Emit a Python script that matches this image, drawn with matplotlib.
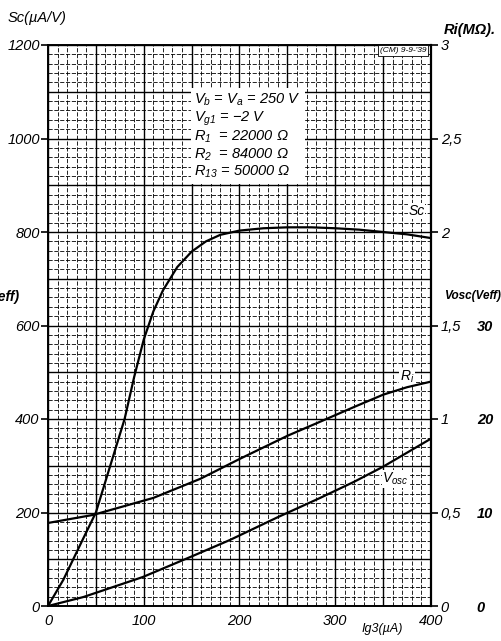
import matplotlib
matplotlib.use("Agg")
import matplotlib.pyplot as plt
from matplotlib.ticker import MultipleLocator, FixedLocator, FixedFormatter

# ---- data ----
ig3 = [0, 16, 36, 50, 65, 80, 90, 100, 110, 120, 135, 150, 165, 180, 200, 225, 250, 275, 300, 325, 350, 375, 400]
sc = [0, 56, 141, 200, 300, 400, 490, 570, 630, 675, 725, 758, 780, 794, 803, 808, 810, 810, 808, 805, 800, 795, 787]

ri_x = [0, 47, 110, 159, 200, 250, 284, 320, 350, 375, 400]
ri = [0.444, 0.487, 0.578, 0.68, 0.786, 0.91, 0.985, 1.065, 1.13, 1.17, 1.20]

vosc_x = [0, 37, 99, 150, 190, 240, 284, 320, 350, 375, 400]
vosc = [0, 0.96, 3.1, 5.3, 7.06, 9.5, 11.55, 13.3, 14.9, 16.4, 17.9]

sc_ticks = [0, 200, 400, 600, 800, 1000, 1200]
sc_labels = ["0", "200", "400", "600", "800", "1000", "1200"]
ri_ticks = [0, 0.5, 1, 1.5, 2, 2.5, 3]
ri_labels = ["0", "0,5", "1", "1,5", "2", "2,5", "3"]
v_ticks = [0, 10, 20, 30]
v_labels = ["0", "10", "20", "30"]
x_ticks = [0, 100, 200, 300, 400]
x_labels = ["0", "100", "200", "300", "400"]

conditions = ["$V_b$ = $V_a$ = 250 V", "$V_{g1}$ = −2 V", "$R_1$  = 22000 Ω",
              "$R_2$  = 84000 Ω", "$R_{13}$ = 50000 Ω"]

plt.rcParams['font.family'] = ['Liberation Sans', 'DejaVu Sans']
plt.rcParams['mathtext.fontset'] = 'custom'
plt.rcParams['mathtext.it'] = 'Liberation Sans:italic'
plt.rcParams['mathtext.rm'] = 'Liberation Sans:italic'

fig = plt.figure(figsize=(5.02, 6.41), dpi=100)
ax = fig.add_axes([48/502, 1-606/641, (431-48)/502, (606-45)/641])

ax.set_xlim(0, 400)
ax.set_ylim(0, 1200)

# grid
ax.xaxis.set_minor_locator(MultipleLocator(10))
ax.yaxis.set_minor_locator(MultipleLocator(20))
ax.xaxis.set_major_locator(FixedLocator(x_ticks))
ax.yaxis.set_major_locator(FixedLocator(sc_ticks))
for v in range(0, 401, 10):
    lw = 1.0 if v % 50 == 0 else 0.6
    ls = '-' if v % 50 == 0 else (0, (5, 2))
    ax.axvline(v, color='black', lw=lw, ls=ls, zorder=1)
for v in range(0, 1201, 20):
    lw = 1.0 if v % 100 == 0 else 0.6
    ls = '-' if v % 100 == 0 else (0, (5, 2))
    ax.axhline(v, color='black', lw=lw, ls=ls, zorder=1)

ax.xaxis.set_major_formatter(FixedFormatter(x_labels))
ax.yaxis.set_major_formatter(FixedFormatter(sc_labels))
ax.tick_params(axis='both', which='minor', length=0)
ax.tick_params(axis='y', which='major', length=5, width=1.2, direction='out', labelsize=10.5, pad=1)
ax.tick_params(axis='x', which='major', length=0, labelsize=10.5, pad=6)
for lab in ax.get_xticklabels() + ax.get_yticklabels():
    lab.set_style('italic')

for s in ax.spines.values():
    s.set_linewidth(1.4)
    s.set_color('black')

# Sc curve
ax.plot(ig3, sc, color='black', lw=1.6, zorder=5)

# Ri axis
ax2 = ax.twinx()
ax2.set_position(ax.get_position())
ax2.set_ylim(0, 3)
ax2.yaxis.set_major_locator(FixedLocator(ri_ticks))
ax2.yaxis.set_major_formatter(FixedFormatter(ri_labels))
ax2.tick_params(axis='y', length=5, width=1.2, direction='out', labelsize=10.5, pad=2)
for lab in ax2.get_yticklabels():
    lab.set_style('italic')
for s in ax2.spines.values():
    s.set_visible(False)
ax2.spines['right'].set_visible(True)
ax2.spines['right'].set_linewidth(1.6)
ax2.plot(ri_x, ri, color='black', lw=1.6, zorder=5)

# Vosc axis
ax3 = ax.twinx()
ax3.set_position(ax.get_position())
ax3.set_ylim(0, 60)
for s in ax3.spines.values():
    s.set_visible(False)
ax3.yaxis.set_major_locator(FixedLocator(v_ticks))
ax3.yaxis.set_major_formatter(FixedFormatter(v_labels))
ax3.tick_params(axis='y', length=0, labelsize=10.5, pad=33)
for lab in ax3.get_yticklabels():
    lab.set_style('italic')
    lab.set_weight('bold')
ax3.plot(vosc_x, vosc, color='black', lw=1.6, zorder=5)

# curve labels
ax.text(385, 845, "Sc", fontsize=10, style='italic', ha='center', va='center',
        bbox=dict(facecolor='white', edgecolor='none', pad=0.5), zorder=6)
ax.text(375, 490, "$R_i$", fontsize=10, ha='center', va='center',
        bbox=dict(facecolor='white', edgecolor='none', pad=0.5), zorder=6)
ax.text(363, 272, "$V_{osc}$", fontsize=10, ha='center', va='center',
        bbox=dict(facecolor='white', edgecolor='none', pad=0.5), zorder=6)

# conditions box
ax.text(153, 1100, "\n".join(conditions), fontsize=10.5, style='italic', ha='left', va='top',
        linespacing=1.1, zorder=6,
        bbox=dict(facecolor='white', edgecolor='none', boxstyle='square,pad=0.25'))

# stamp
ax.text(395, 1188, "(CM) 9-9-'39", fontsize=6, style='italic', ha='right', va='center', zorder=6,
        bbox=dict(facecolor='white', edgecolor='black', lw=0.6, boxstyle='square,pad=0.2'))

# axis titles
fig.text(8/502, 1-18/641, "Sc(µA/V)", fontsize=10.5, style='italic', ha='left', va='center')
fig.text(496/502, 1-30/641, "Ri(MΩ).", fontsize=10.5, style='italic', weight='bold', ha='right', va='center')
fig.text(501/502, 1-296/641, "Vosc(Veff)", fontsize=8.5, style='italic', weight='bold', ha='right', va='center')
fig.text(-10/502, 1-297/641, "Veff)", fontsize=10, style='italic', weight='bold', ha='left', va='center')
fig.text(382/502, 1-629/641, "Ig3(µA)", fontsize=9, style='italic', ha='center', va='center')

fig.savefig("out.png", dpi=100)
